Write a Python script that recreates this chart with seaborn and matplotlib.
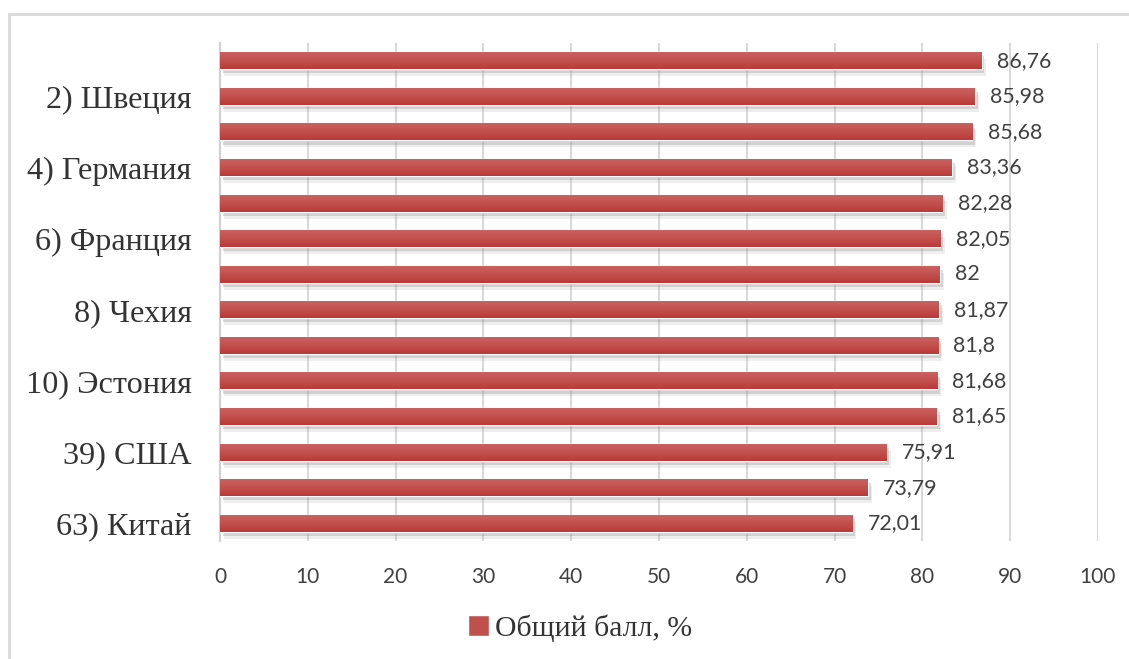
import numpy as np
import pandas as pd
import matplotlib
matplotlib.use('Agg')
from matplotlib import pyplot as plt
from matplotlib import patheffects
from matplotlib.patches import Patch, Rectangle
import seaborn as sns

# data (rank order, top to bottom)
ranks = ['1', '2', '3', '4', '5', '6', '7', '8', '9', '10', '11', '39', '50', '63']
tick_labels = ['', '2) Швеция', '', '4) Германия', '', '6) Франция', '',
               '8) Чехия', '', '10) Эстония', '', '39) США', '', '63) Китай']
scores = [86.76, 85.98, 85.68, 83.36, 82.28, 82.05, 82.0,
          81.87, 81.8, 81.68, 81.65, 75.91, 73.79, 72.01]
series_name = 'Общий балл, %'

df = pd.DataFrame({'rank': ranks, 'score': scores})

sns.set_style('white')
plt.rcParams['font.family'] = ['Liberation Serif', 'DejaVu Serif']

fig = plt.figure(figsize=(11.29, 6.59), dpi=100)
ax = fig.add_axes([0.1949, 0.179, 0.7776, 0.7558])

bar_col = '#C0504D'
sns.barplot(data=df, x='score', y='rank', order=ranks, orient='h',
            color=bar_col, width=0.48, ax=ax, saturation=1, zorder=3)

# cylinder-like shading + soft shadow like the Excel original
grad = np.linspace(0, 1, 64).reshape(-1, 1)
cmap = matplotlib.colors.LinearSegmentedColormap.from_list(
    'bar', ['#CB6462', '#C3514E', '#B93A38'])
for p in ax.patches:
    p.set_path_effects([patheffects.SimplePatchShadow(offset=(2, -3), shadow_rgbFace='#8a8a8a', alpha=0.3),
                        patheffects.SimplePatchShadow(offset=(3, -5), shadow_rgbFace='#aaaaaa', alpha=0.2),
                        patheffects.Normal()])
    x0, y0 = p.get_x(), p.get_y()
    w, h = p.get_width(), p.get_height()
    im = ax.imshow(grad, cmap=cmap, aspect='auto', extent=(x0, x0 + w, y0 + h, y0),
                   origin='upper', zorder=4)
    im.set_clip_path(p)

labels = [f'{v:g}'.replace('.', ',') for v in scores]
ax.bar_label(ax.containers[0], labels=labels, padding=11, fontsize=15.4,
             color='#404040', family=['Lato', 'DejaVu Sans'])

ax.set_xlim(0, 100)
ax.set_ylim(len(ranks) - 0.5, -0.5)
ax.set_xticks(range(0, 101, 10))
ax.set_xticklabels([str(t) for t in range(0, 101, 10)], family=['Lato', 'DejaVu Sans'],
                   fontsize=15, color='#404040')
ax.set_yticks(range(len(ranks)))
ax.set_yticklabels(tick_labels, fontsize=23.2, color='#333333')
ax.tick_params(axis='x', length=0, pad=19)
ax.tick_params(axis='y', length=0, pad=20.5)
ax.grid(axis='x', color='#D9D9D9', linewidth=1.5, zorder=0)
ax.grid(axis='y', visible=False)
for s in ['top', 'right', 'bottom']:
    ax.spines[s].set_visible(False)
ax.spines['left'].set_color('#D0D0D0')
ax.spines['left'].set_linewidth(1.5)
ax.set_xlabel('')
ax.set_ylabel('')

fig.legend(handles=[Patch(facecolor=bar_col, label=series_name)], loc='center',
           bbox_to_anchor=(0.514, 0.047), frameon=False, fontsize=21.4,
           handlelength=0.7, handleheight=0.7, handletextpad=0.2, labelcolor='#333333')

# light outer frame of the chart area
fig.patches.append(Rectangle((9 / 1129, -0.1), 1.2, 1.1 - 14 / 659, transform=fig.transFigure,
                             fill=False, edgecolor='#D9D9D9', linewidth=2, clip_on=False))

fig.savefig('out.png', dpi=100)
